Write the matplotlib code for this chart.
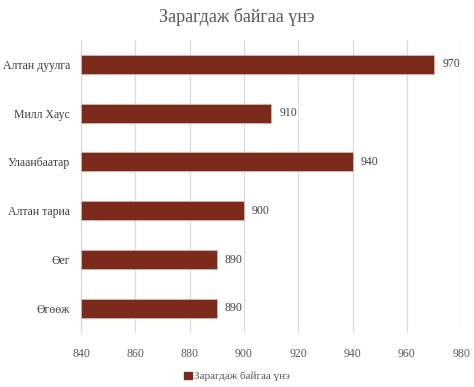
import matplotlib
matplotlib.use("Agg")
import matplotlib.pyplot as plt
from matplotlib.patches import Patch

categories = ["Алтан дуулга", "Милл Хаус", "Улаанбаатар", "Алтан тариа", "Өег", "Өгөөж"]
values = [970, 910, 940, 900, 890, 890]
xticks = [840, 860, 880, 900, 920, 940, 960, 980]
title = "Зарагдаж байгаа үнэ"
series_name = "Зарагдаж байгаа үнэ"

plt.rcParams['font.family'] = ['Liberation Serif', 'DejaVu Serif']
text_color = "#595959"
bar_color = "#7B2A1B"

fig = plt.figure(figsize=(4.74, 3.87), dpi=100)
ax = fig.add_axes([0.171, 0.140, 0.802, 0.757])

n = len(categories)
ypos = [n - 1 - i for i in range(n)]
ax.barh(ypos, [v - xticks[0] for v in values], left=xticks[0], height=0.39,
        color=bar_color, edgecolor="#D8B4AE", linewidth=0.6, zorder=3)

for y, v in zip(ypos, values):
    ax.text(v + 3, y, str(v), va="center", ha="left", fontsize=8.5, color="#404040")

ax.set_xlim(xticks[0], xticks[-1])
ax.set_ylim(-0.5, n - 0.5)
ax.set_xticks(xticks)
ax.set_xticklabels([str(t) for t in xticks], fontsize=8.5, color=text_color)
ax.set_yticks(ypos)
ax.set_yticklabels(categories, fontsize=8.5, color="#404040")
ax.tick_params(axis="x", length=0, pad=11)
ax.tick_params(axis="y", length=0, pad=8)
ax.grid(axis="x", color="#D9D9D9", linewidth=0.8, zorder=0)
for s in ["top", "right", "bottom"]:
    ax.spines[s].set_visible(False)
ax.spines["left"].set_color("#D9D9D9")
ax.spines["left"].set_linewidth(0.8)

fig.text(0.5, 0.955, title, ha="center", va="center", fontsize=13, color=text_color)

handles = [Patch(facecolor=bar_color, edgecolor=bar_color, label=series_name)]
fig.legend(handles=handles, loc="center", bbox_to_anchor=(0.5, 0.027), frameon=False,
           fontsize=8, handlelength=0.7, handleheight=0.7, handletextpad=0.2,
           labelcolor=text_color)

fig.savefig("out.png", dpi=100)
